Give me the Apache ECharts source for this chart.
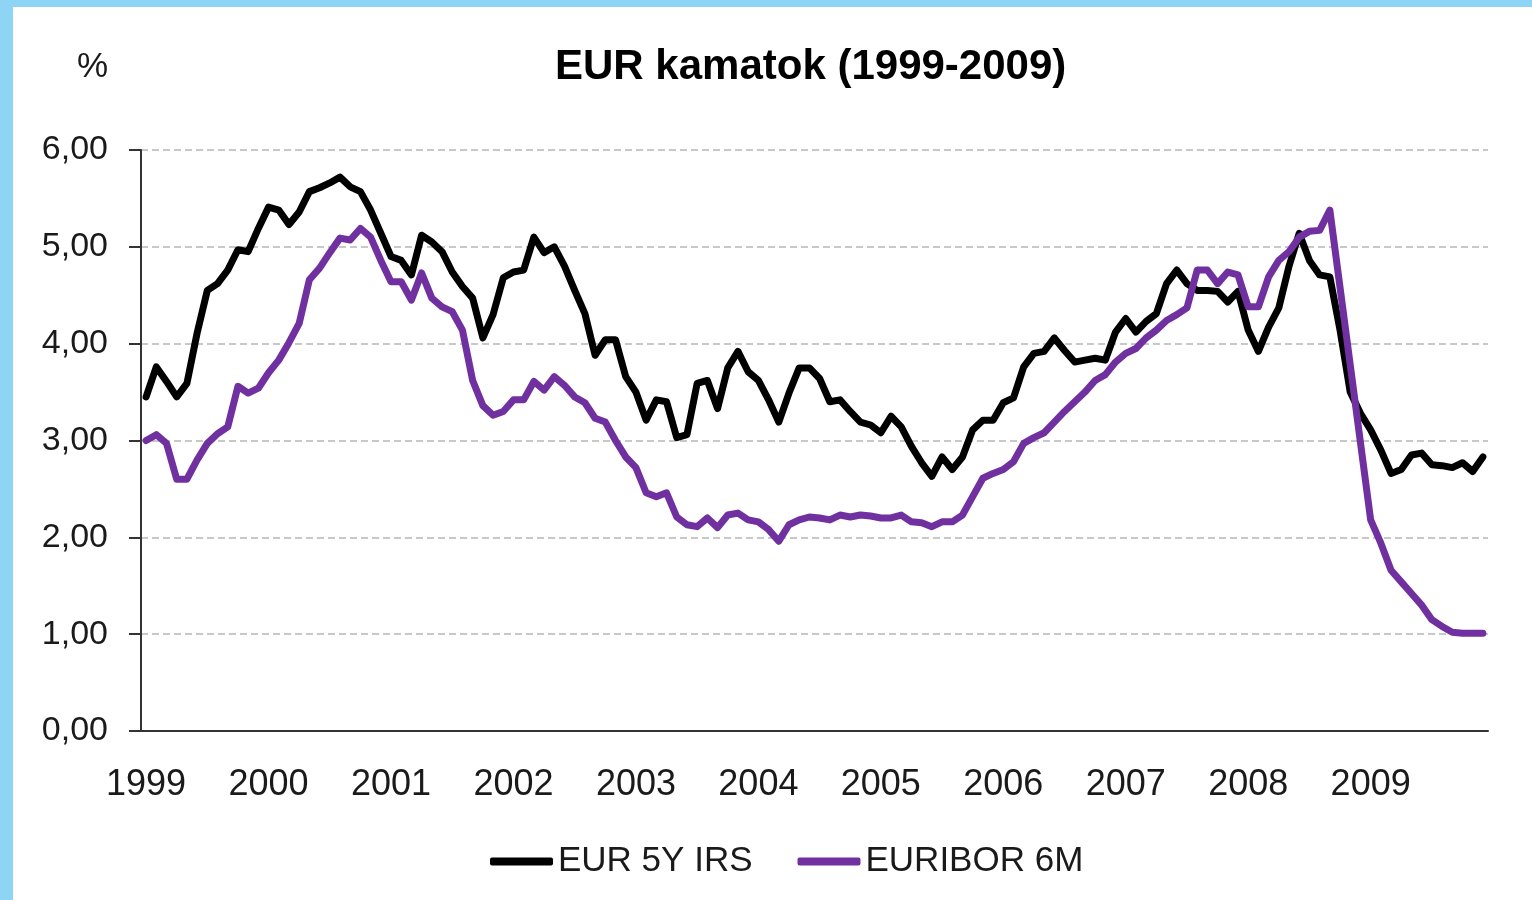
<!DOCTYPE html>
<html>
<head>
<meta charset="utf-8">
<title>EUR kamatok (1999-2009)</title>
<script src="https://cdn.jsdelivr.net/npm/echarts@6/dist/echarts.min.js"></script>
<style>
  html, body { margin: 0; padding: 0; background: #fff; }
  #chart { width: 1532px; height: 900px; }
</style>
</head>
<body>
<div id="chart"></div>
<script>
const years = [1999, 2000, 2001, 2002, 2003, 2004, 2005, 2006, 2007, 2008, 2009]
const yTicks = [0, 1, 2, 3, 4, 5, 6]

// havi adatok, 1999-01 ... 2009-12
const irs5y = [
  3.45, 3.76, 3.61, 3.45, 3.59, 4.11, 4.55, 4.62, 4.76, 4.97, 4.95, 5.19,
  5.41, 5.38, 5.23, 5.36, 5.57, 5.61, 5.66, 5.72, 5.62, 5.57, 5.38, 5.14,
  4.90, 4.86, 4.71, 5.12, 5.05, 4.95, 4.74, 4.59, 4.47, 4.06, 4.30, 4.68,
  4.74, 4.76, 5.10, 4.94, 5.00, 4.80, 4.55, 4.31, 3.88, 4.04, 4.04, 3.66,
  3.50, 3.21, 3.42, 3.40, 3.03, 3.06, 3.59, 3.62, 3.33, 3.75, 3.92, 3.71,
  3.62, 3.42, 3.19, 3.49, 3.75, 3.75, 3.64, 3.40, 3.42, 3.30, 3.19, 3.16,
  3.08, 3.25, 3.14, 2.94, 2.77, 2.63, 2.83, 2.70, 2.83, 3.11, 3.21, 3.21,
  3.39, 3.44, 3.76, 3.90, 3.92, 4.06, 3.93, 3.81, 3.83, 3.85, 3.83, 4.12,
  4.26, 4.12, 4.23, 4.31, 4.62, 4.76, 4.62, 4.55, 4.55, 4.54, 4.43, 4.54,
  4.14, 3.92, 4.17, 4.37, 4.80, 5.14, 4.86, 4.71, 4.69, 4.14, 3.50, 3.28,
  3.11, 2.90, 2.66, 2.70, 2.85, 2.87, 2.75, 2.74, 2.72, 2.77, 2.68, 2.83
]

const euribor6m = [
  3.00, 3.06, 2.97, 2.60, 2.60, 2.80, 2.97, 3.07, 3.14, 3.56, 3.49, 3.54,
  3.70, 3.83, 4.01, 4.21, 4.66, 4.78, 4.94, 5.09, 5.07, 5.19, 5.10, 4.86,
  4.64, 4.64, 4.45, 4.73, 4.47, 4.38, 4.33, 4.14, 3.62, 3.36, 3.26, 3.30,
  3.42, 3.42, 3.61, 3.52, 3.66, 3.57, 3.45, 3.39, 3.23, 3.19, 3.00, 2.83,
  2.72, 2.46, 2.42, 2.46, 2.21, 2.13, 2.11, 2.20, 2.10, 2.23, 2.25, 2.18,
  2.16, 2.08, 1.96, 2.13, 2.18, 2.21, 2.20, 2.18, 2.23, 2.21, 2.23, 2.22,
  2.20, 2.20, 2.23, 2.16, 2.15, 2.11, 2.16, 2.16, 2.23, 2.42, 2.61, 2.66,
  2.70, 2.78, 2.97, 3.03, 3.08, 3.19, 3.30, 3.40, 3.50, 3.62, 3.68, 3.81,
  3.90, 3.95, 4.06, 4.14, 4.24, 4.30, 4.37, 4.76, 4.76, 4.62, 4.74, 4.71,
  4.38, 4.38, 4.69, 4.86, 4.95, 5.10, 5.16, 5.17, 5.38, 4.58, 3.78, 2.98,
  2.18, 1.94, 1.66, 1.54, 1.42, 1.30, 1.15, 1.08, 1.02, 1.01, 1.01, 1.01
]

const months = []
years.forEach(y => {
  for (let m = 1; m <= 12; m++) months.push(y + '-' + String(m).padStart(2, '0'))
})

const font = "'Liberation Sans', Arial, sans-serif"
const blue = '#8dd4f5'

const chart = echarts.init(document.getElementById('chart'))

chart.setOption({
  animation: false,
  backgroundColor: '#fff',
  textStyle: { fontFamily: font },
  graphic: [
    { type: 'rect', shape: { x: 0, y: 0, width: 1532, height: 7 }, style: { fill: blue }, z: 100 },
    { type: 'rect', shape: { x: 0, y: 0, width: 13, height: 900 }, style: { fill: blue }, z: 100 }
  ],
  title: [
    {
      text: 'EUR kamatok (1999-2009)',
      left: 555,
      top: 46,
      padding: 0,
      textStyle: { fontFamily: font, fontSize: 42, fontWeight: 'bold', color: '#000', lineHeight: 42 }
    },
    {
      text: '%',
      left: 77,
      top: 50,
      padding: 0,
      textStyle: { fontFamily: font, fontSize: 35, fontWeight: 'normal', color: '#1a1a1a', lineHeight: 34 }
    }
  ],
  legend: {
    left: 485,
    top: 839,
    itemWidth: 63,
    itemHeight: 8,
    itemGap: 45,
    icon: 'roundRect',
    textStyle: { fontFamily: font, fontSize: 35, color: '#1a1a1a', lineHeight: 34 },
    data: ['EUR 5Y IRS', 'EURIBOR 6M']
  },
  grid: { left: 141, right: 44, top: 150, bottom: 169 },
  xAxis: {
    type: 'category',
    data: months,
    boundaryGap: true,
    axisLine: { lineStyle: { color: '#333', width: 2 } },
    axisTick: { interval: 11, length: 11, lineStyle: { color: '#333', width: 2 } },
    axisLabel: {
      interval: 11,
      margin: 36,
      fontFamily: font,
      fontSize: 36,
      color: '#1a1a1a',
      formatter: v => v.slice(0, 4)
    },
    splitLine: { show: false }
  },
  yAxis: {
    type: 'value',
    min: yTicks[0],
    max: yTicks[yTicks.length - 1],
    interval: 1,
    axisLine: { show: true, lineStyle: { color: '#333', width: 2 } },
    axisTick: { show: true, length: 12, lineStyle: { color: '#333', width: 2 } },
    axisLabel: {
      margin: 33,
      fontFamily: font,
      fontSize: 34,
      color: '#1a1a1a',
      formatter: v => v.toFixed(2).replace('.', ',')
    },
    splitLine: { lineStyle: { color: '#c8c8c8', width: 2, type: [7, 4] } }
  },
  series: [
    {
      name: 'EUR 5Y IRS',
      type: 'line',
      data: irs5y,
      showSymbol: false,
      symbol: 'none',
      itemStyle: { color: '#000' },
      lineStyle: { color: '#000', width: 7, join: 'round', cap: 'round' },
      z: 2
    },
    {
      name: 'EURIBOR 6M',
      type: 'line',
      data: euribor6m,
      showSymbol: false,
      symbol: 'none',
      itemStyle: { color: '#7030a0' },
      lineStyle: { color: '#7030a0', width: 7, join: 'round', cap: 'round' },
      z: 3
    }
  ]
})
</script>
</body>
</html>
